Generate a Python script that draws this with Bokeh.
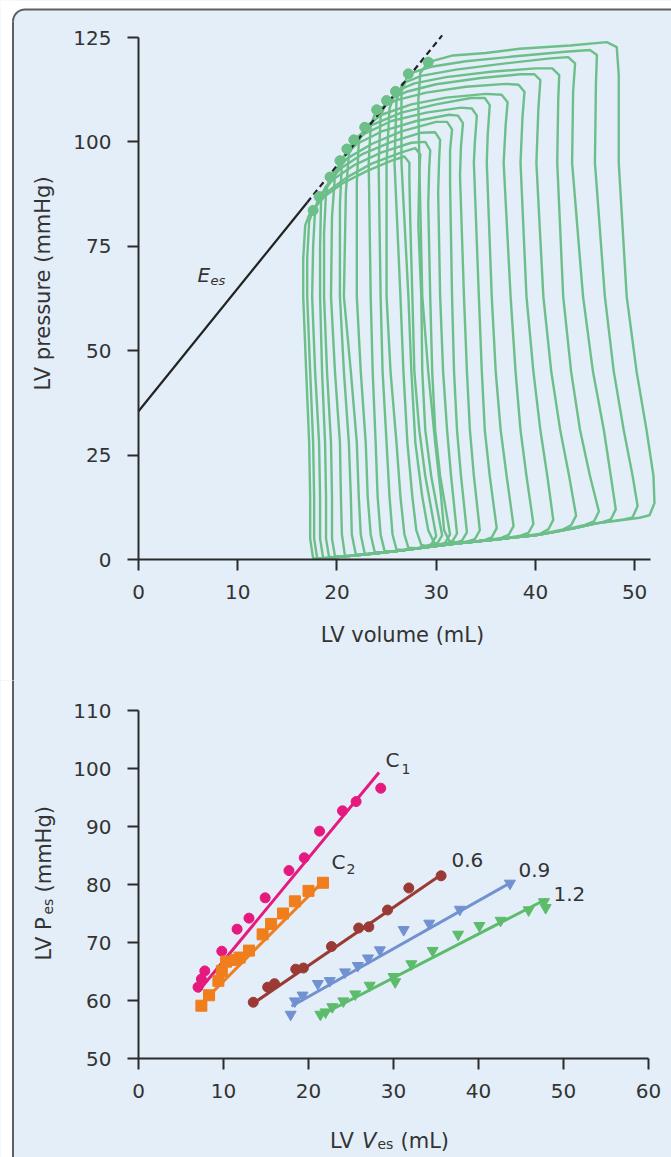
import math
from bokeh.plotting import figure
from bokeh.layouts import column
from bokeh.models import Range1d, FixedTicker, Label, BoxAnnotation
from bokeh.embed import file_html
from bokeh.resources import INLINE

# ---------------- data: top panel (pressure-volume loops) ----------------
# each loop: LV volume (mL) and LV pressure (mmHg), traced counter-clockwise
loop_v = [
    [28.7, 29.5, 30.0, 28.9, 28.3, 27.8, 27.6, 27.4, 27.3, 27.3, 26.8, 25.5, 23.0, 20.5, 18.5, 17.2, 16.8, 16.6, 16.6, 16.9, 17.2, 17.3, 17.3, 17.6, 18.4, 20, 22, 24, 26, 28, 28.7],
    [29.3, 30.1, 30.6, 29.5, 28.9, 28.6, 28.5, 28.2, 28.3, 28.4, 27.9, 26.5, 23.5, 21.0, 19.0, 17.6, 17.2, 17.0, 17.0, 17.3, 17.6, 17.7, 17.7, 18.0, 18.8, 20, 22, 24, 26, 28, 29.3],
    [30.1, 30.9, 31.4, 30.4, 29.9, 29.6, 29.4, 29.2, 29.3, 29.4, 28.9, 27.5, 24.5, 21.8, 19.6, 18.2, 17.8, 17.6, 17.5, 17.8, 18.2, 18.3, 18.3, 18.6, 19.4, 22, 24, 26, 28, 30.1],
    [30.8, 31.6, 32.1, 31.5, 31.1, 30.7, 30.4, 30.2, 30.3, 30.4, 29.9, 28.5, 25.5, 22.5, 20.3, 18.8, 18.4, 18.3, 18.3, 18.5, 18.8, 18.9, 18.9, 19.2, 20.0, 22, 24, 26, 28, 30, 30.8],
    [31.8, 32.6, 33.1, 32.5, 32.1, 31.8, 31.6, 31.4, 31.4, 31.6, 31.1, 30.0, 26.5, 23.5, 21.0, 19.3, 18.9, 18.7, 18.7, 19.0, 19.4, 19.5, 19.5, 19.8, 20.6, 22, 24, 26, 28, 30, 31.8],
    [33.1, 33.9, 34.4, 33.8, 33.4, 33.1, 32.8, 32.4, 32.5, 32.7, 32.2, 31.3, 28.0, 24.5, 22.0, 20.3, 19.8, 19.5, 19.4, 19.8, 20.3, 20.4, 20.5, 20.8, 21.6, 24, 26, 28, 30, 32, 33.1],
    [34.8, 35.6, 36.1, 35.4, 34.9, 34.6, 34.3, 33.8, 33.9, 34.1, 33.6, 32.5, 29.0, 25.5, 22.8, 21.0, 20.5, 20.3, 20.3, 20.7, 21.2, 21.4, 21.5, 21.9, 22.7, 24, 26, 28, 30, 32, 34, 34.8],
    [36.5, 37.3, 37.8, 37.1, 36.5, 36.0, 35.6, 35.1, 35.2, 35.4, 34.9, 33.5, 30.0, 26.5, 23.5, 21.7, 21.2, 20.9, 20.7, 21.4, 22.0, 22.2, 22.4, 22.8, 23.6, 26, 28, 30, 32, 34, 36.5],
    [38.5, 39.3, 39.8, 39.1, 38.5, 38.0, 37.5, 36.8, 37.0, 37.2, 36.6, 35.0, 31.0, 27.5, 24.5, 22.8, 22.2, 22.0, 22.0, 22.4, 22.9, 23.1, 23.4, 23.8, 24.6, 26, 28, 30, 32, 34, 36, 38.5],
    [40.5, 41.3, 41.8, 41.2, 40.5, 39.8, 39.1, 38.5, 38.7, 38.9, 38.3, 37.0, 33.0, 29.0, 26.0, 24.0, 23.4, 23.2, 23.4, 23.6, 23.9, 24.1, 24.4, 24.8, 25.6, 28, 30, 32, 34, 36, 38, 40.5],
    [42.8, 43.6, 44.1, 43.4, 42.5, 41.6, 40.8, 40.1, 40.3, 40.5, 39.9, 38.5, 34.5, 30.0, 27.0, 25.0, 24.4, 24.2, 24.4, 24.6, 25.0, 25.3, 25.6, 26.0, 26.8, 28, 30, 32, 34, 36, 38, 40, 42.8],
    [45.0, 45.9, 46.4, 45.5, 44.5, 43.6, 42.8, 42.2, 42.3, 42.4, 41.7, 40.0, 35.5, 31.0, 27.8, 25.9, 25.3, 25.0, 25.0, 25.4, 26.0, 26.4, 26.8, 27.2, 28.0, 30, 32, 34, 36, 38, 40, 42, 45.0],
    [46.8, 47.6, 48.1, 47.6, 46.9, 45.8, 44.8, 43.7, 43.8, 44.0, 43.3, 41.5, 37.0, 32.0, 28.5, 26.6, 26.0, 25.8, 26.4, 26.7, 27.1, 27.6, 28.0, 28.5, 29.3, 32, 34, 36, 38, 40, 42, 44, 46.8],
    [48.9, 49.8, 50.3, 49.8, 48.9, 47.9, 47.0, 46.0, 46.1, 46.2, 45.5, 43.0, 38.0, 33.0, 29.5, 27.2, 26.5, 26.5, 27.2, 27.5, 27.9, 28.6, 29.2, 29.8, 30.6, 32, 34, 36, 38, 40, 42, 44, 46, 48.9],
    [50.5, 51.5, 52.0, 51.9, 51.2, 50.2, 49.2, 48.4, 48.4, 48.2, 47.2, 43.5, 38.4, 35.0, 31.7, 29.2, 28.4, 28.2, 28.3, 28.6, 29.2, 29.9, 30.5, 30.8, 31.3, 32.2, 34, 36, 38, 40, 42, 44, 46, 48, 50.5],
]
loop_p = [
    [3.1, 3.6, 5.6, 20, 31, 45, 63, 80, 91, 95.0, 96.5, 95.5, 93.0, 90.0, 86.5, 82.5, 80, 72, 63, 45, 28, 15, 5, 0.3, 0.2, 0.6, 1.0, 1.5, 2.0, 2.6, 3.1],
    [3.3, 3.8, 5.8, 20, 31, 45, 63, 80, 93, 97.0, 98.5, 97.5, 94.8, 91.5, 88.0, 83.6, 81, 72, 63, 45, 28, 15, 5, 0.4, 0.3, 0.6, 1.0, 1.5, 2.0, 2.6, 3.3],
    [3.5, 4.0, 6.0, 20, 31, 45, 63, 85, 94, 98.0, 100.0, 99.8, 97.5, 94.5, 91.0, 86.9, 84, 75, 63, 45, 28, 15, 5, 0.5, 0.4, 1.0, 1.5, 2.0, 2.6, 3.5],
    [3.7, 4.2, 6.2, 20, 31, 45, 63, 88, 96, 100.5, 102.3, 102.2, 100.0, 97.0, 93.5, 89.0, 86, 75, 63, 45, 28, 15, 5, 0.6, 0.6, 1.0, 1.5, 2.0, 2.6, 3.3, 3.7],
    [4.0, 4.5, 6.5, 20, 31, 45, 63, 90, 98, 103.0, 104.8, 104.8, 102.5, 99.5, 96.0, 91.6, 88, 78, 63, 45, 28, 15, 5, 0.8, 0.7, 1.0, 1.5, 2.0, 2.6, 3.2, 4.0],
    [4.3, 4.9, 7.0, 20, 31, 45, 63, 92, 99, 104.5, 106.3, 106.5, 105.0, 102.5, 99.5, 95.5, 92, 82, 63, 45, 28, 15, 6, 1.0, 0.9, 1.5, 2.0, 2.6, 3.2, 3.8, 4.3],
    [4.6, 5.3, 7.5, 20, 31, 45, 63, 95, 100, 106.3, 108.0, 108.2, 107.0, 105.0, 102.0, 98.3, 95, 85, 63, 45, 28, 15, 6, 1.2, 1.2, 1.5, 2.0, 2.6, 3.2, 3.8, 4.3, 4.6],
    [5.1, 5.9, 8.0, 20, 31, 45, 63, 95, 102, 108.8, 110.5, 110.5, 109.0, 107.0, 104.0, 100.5, 97, 88, 63, 45, 28, 15, 6, 1.4, 1.4, 2.0, 2.6, 3.2, 3.8, 4.3, 5.1],
    [5.7, 6.4, 8.5, 20, 31, 45, 63, 95, 104, 109.5, 111.3, 111.5, 110.6, 109.0, 106.5, 103.5, 100, 90, 63, 45, 28, 15, 6, 1.8, 1.7, 2.0, 2.6, 3.2, 3.8, 4.3, 4.8, 5.7],
    [6.2, 7.2, 9.5, 20, 31, 45, 63, 95, 106, 112.0, 113.7, 113.9, 113.2, 111.8, 110.0, 107.7, 104, 95, 63, 45, 28, 15, 6, 2.0, 2.0, 2.6, 3.2, 3.8, 4.3, 4.8, 5.3, 6.2],
    [7.2, 8.2, 10.5, 20, 31, 45, 63, 95, 108, 114.8, 116.2, 116.2, 115.3, 113.8, 112.0, 109.9, 106, 95, 63, 45, 28, 15, 6, 2.4, 2.3, 2.6, 3.2, 3.8, 4.3, 4.8, 5.3, 5.8, 7.2],
    [8.3, 9.1, 11.5, 20, 31, 45, 63, 95, 110, 116.0, 117.6, 117.6, 116.8, 115.5, 114.0, 112.1, 108, 95, 63, 45, 28, 15, 6, 2.8, 2.7, 3.2, 3.8, 4.3, 4.8, 5.3, 5.8, 6.6, 8.3],
    [9.0, 9.6, 12.0, 20, 31, 45, 63, 95, 112, 118.8, 120.3, 120.0, 118.8, 117.3, 115.8, 114.0, 110, 95, 63, 45, 28, 15, 7, 3.5, 3.1, 3.8, 4.3, 4.8, 5.3, 5.8, 6.6, 7.5, 9.0],
    [9.6, 10.1, 12.8, 20, 31, 45, 63, 95, 114, 120.8, 122.0, 121.6, 120.5, 119.3, 118.0, 116.3, 112, 95, 63, 45, 28, 15, 7, 4.0, 3.5, 3.8, 4.3, 4.8, 5.3, 5.8, 6.6, 7.5, 8.6, 9.6],
    [10.0, 10.6, 13.5, 20, 31, 45, 63, 95, 116, 122.7, 123.9, 123.1, 122.3, 121.3, 120.7, 119.1, 116.5, 110, 95, 63, 45, 28, 15, 7, 4.5, 4.0, 4.3, 4.8, 5.3, 5.8, 6.6, 7.5, 8.6, 9.2, 10.0],
]
# end-systolic points (dots)
es_v = [17.6, 18.2, 19.3, 20.3, 21.0, 21.7, 22.8, 24.0, 25.0, 25.9, 27.2, 29.2]
es_p = [83.6, 86.9, 91.6, 95.5, 98.3, 100.5, 103.5, 107.7, 109.9, 112.1, 116.3, 119.1]
# end-systolic pressure-volume relation (Ees line)
espvr_v = [0.0, 17.0, 30.6]
espvr_p = [35.5, 85.5, 125.5]

top_xticks = [0, 10, 20, 30, 40, 50]
top_yticks = [0, 25, 50, 75, 100, 125]

# ---------------- data: bottom panel (ESPVR series) ----------------
c1_v = [7.0, 7.4, 7.8, 9.8, 11.6, 13.0, 14.9, 17.7, 19.5, 21.3, 24.0, 25.6, 28.5]
c1_p = [62.3, 63.7, 65.1, 68.5, 72.3, 74.2, 77.7, 82.4, 84.6, 89.2, 92.7, 94.3, 96.6]
c1_fit_v = [7.0, 28.3]
c1_fit_p = [61.5, 99.3]

c2_v = [7.4, 8.3, 9.4, 9.8, 10.3, 11.4, 11.9, 13.0, 14.6, 15.6, 17.0, 18.4, 20.0, 21.7]
c2_p = [59.1, 60.9, 63.4, 65.1, 66.7, 67.0, 67.4, 68.6, 71.4, 73.2, 75.0, 77.1, 78.9, 80.3]
c2_fit_v = [7.4, 21.7]
c2_fit_p = [59.5, 80.5]

d06_v = [13.5, 15.2, 16.0, 18.5, 19.4, 22.7, 25.9, 27.1, 29.3, 31.8, 35.6]
d06_p = [59.7, 62.3, 62.9, 65.4, 65.6, 69.3, 72.5, 72.7, 75.6, 79.4, 81.5]
d06_fit_v = [13.5, 35.6]
d06_fit_p = [59.5, 81.7]

d09_v = [17.9, 18.4, 19.3, 21.1, 22.5, 24.3, 25.8, 27.0, 28.4, 31.2, 34.2, 37.8, 43.7]
d09_p = [57.6, 59.9, 60.9, 62.9, 63.4, 64.9, 66.0, 67.3, 68.7, 72.2, 73.3, 75.7, 80.2]
d09_fit_v = [18.0, 44.0]
d09_fit_p = [59.0, 80.5]

d12_v = [21.4, 22.0, 22.8, 24.1, 25.5, 27.2, 30.0, 30.2, 32.1, 34.6, 37.6, 40.1, 42.6, 45.9, 47.7, 47.9]
d12_p = [57.6, 58.0, 58.9, 59.9, 61.1, 62.6, 64.1, 63.2, 66.3, 68.6, 71.4, 72.9, 73.8, 75.6, 77.0, 76.0]
d12_fit_v = [21.5, 48.0]
d12_fit_p = [57.5, 77.5]

bot_xticks = [0, 10, 20, 30, 40, 50, 60]
bot_yticks = [50, 60, 70, 80, 90, 100, 110]

# ---------------- styling / layout ----------------
BG = "#e3eef8"
AX = "#2b2b2b"
TXT = "#333333"
FONT = "DejaVu Sans"
LOOP_GREEN = "#6cbf88"
BORDER = "#5f5f5f"
W = 671
H1 = 680
H2 = 1157 - H1
DY = 9   # text box shift (px) for labels
DX = 6   # same, for rotated labels
R = 12   # corner radius of the panel frame (px)
FR_X, FR_Y = 12.5, 9   # left / top edge of the panel frame (px)

# top panel pixel geometry (page pixels)
T_X0, T_X1, T_XMAX = 138, 650, 51.6
T_Y0, T_Y1, T_YMAX = 559, 37, 125
t_sx = (T_X1 - T_X0) / T_XMAX
t_sy = (T_Y0 - T_Y1) / T_YMAX


def t_pt(px, py):
    return (px - T_X0) / t_sx, (T_Y0 - py) / t_sy


# bottom panel pixel geometry (page pixels)
B_X0, B_X1 = 138, 648
B_Y0, B_Y1 = 1058, 710
b_sx = (B_X1 - B_X0) / 60.0
b_sy = (B_Y0 - B_Y1) / 60.0


def b_pt(px, py):
    return (px - B_X0) / b_sx, 50 + (B_Y0 - py) / b_sy


def style_axes(p, xticks, yticks, xloc, yloc, xb, yb):
    p.xaxis.ticker = FixedTicker(ticks=xticks)
    p.yaxis.ticker = FixedTicker(ticks=yticks)
    p.xaxis.fixed_location = xloc
    p.yaxis.fixed_location = yloc
    p.xaxis.bounds = xb
    p.yaxis.bounds = yb
    for ax in (p.xaxis, p.yaxis):
        ax.axis_line_width = 2
        ax.axis_line_color = AX
        ax.major_tick_line_width = 2
        ax.major_tick_line_color = AX
        ax.major_tick_out = 11
        ax.major_tick_in = 0
        ax.minor_tick_line_color = None
        ax.major_label_text_font = FONT
        ax.major_label_text_font_size = "20px"
        ax.major_label_text_color = TXT
    p.xaxis.major_label_standoff = 14
    p.yaxis.major_label_standoff = 16
    p.xgrid.visible = False
    p.ygrid.visible = False
    p.outline_line_color = None
    p.background_fill_color = BG
    p.border_fill_color = BG
    p.min_border = 0


def label(p, xy, text, size="21px", style="normal", align="left", baseline="alphabetic", angle=0.0):
    p.add_layout(Label(x=xy[0], y=xy[1], text=text, text_font=FONT, text_font_size=size,
                       text_font_style=style, text_color=TXT, text_align=align,
                       text_baseline=baseline, angle=angle))


def seg(p, conv, a, b):
    (x0, y0), (x1, y1) = conv(*a), conv(*b)
    p.line([x0, x1], [y0, y1], line_color=BORDER, line_width=2)


def box(p, conv, x0, y0, x1, y1, color, radius=0):
    (l, t), (r, b) = conv(x0, y0), conv(x1, y1)
    p.add_layout(BoxAnnotation(left=l, right=r, top=t, bottom=b, fill_color=color,
                               fill_alpha=1.0, line_color=None, border_radius=radius,
                               level="underlay"))


# ---------------- top figure ----------------
tx0, ty_top = t_pt(0, 0)
tx1, ty_bot = t_pt(W, H1)
p1 = figure(width=W, height=H1, output_backend="svg", toolbar_location=None,
            x_range=Range1d(tx0, tx1), y_range=Range1d(ty_bot, ty_top))
style_axes(p1, top_xticks, top_yticks, 0, 0, (0, T_XMAX), (0, T_YMAX))
# white page outside the rounded panel frame
box(p1, t_pt, -40, -40, FR_X, H1 + 40, "white")
box(p1, t_pt, -40, -40, W + 40, FR_Y, "white")
box(p1, t_pt, FR_X - 1, FR_Y - 1, FR_X + R, FR_Y + R, "white")
box(p1, t_pt, FR_X, FR_Y, W + 40, H1 + 40, BG, radius=(R, 0, 0, 0))
# panel frame: top edge, rounded corner, left edge
seg(p1, t_pt, (FR_X + R, FR_Y), (W + 5, FR_Y))
seg(p1, t_pt, (FR_X, FR_Y + R), (FR_X, H1 + 5))
cx, cy = t_pt(FR_X + R, FR_Y + R)
p1.arc(x=[cx], y=[cy], radius=R, radius_units="screen", start_angle=math.pi / 2,
       end_angle=math.pi, line_color=BORDER, line_width=2)

p1.multi_line(xs=loop_v, ys=loop_p, line_color=LOOP_GREEN, line_width=2.4, line_join="round")
p1.line(espvr_v[:2], espvr_p[:2], line_color="#222222", line_width=2.2)
p1.line(espvr_v[1:], espvr_p[1:], line_color="#222222", line_width=2.2, line_dash="6 4")
p1.scatter(es_v, es_p, size=10, marker="circle", fill_color=LOOP_GREEN, line_color=LOOP_GREEN)

label(p1, t_pt(197, 283 - DY), "E", size="20px", style="italic")
label(p1, t_pt(210, 289 - DY), "es", size="13px", style="italic")
label(p1, t_pt(48 - DX, 283), "LV pressure (mmHg)", align="center", angle=math.pi / 2)
label(p1, t_pt(402, 643 - DY), "LV volume (mL)", align="center")

# ---------------- bottom figure ----------------
bx0, by_top = b_pt(0, H1)
bx1, by_bot = b_pt(W, 1157)
p2 = figure(width=W, height=H2, output_backend="svg", toolbar_location=None,
            x_range=Range1d(bx0, bx1), y_range=Range1d(by_bot, by_top))
style_axes(p2, bot_xticks, bot_yticks, 50, 0, (0, 60), (50, 110))
box(p2, b_pt, -40, H1 - 40, FR_X, 1157 + 40, "white")
seg(p2, b_pt, (FR_X, H1 - 5), (FR_X, 1157 + 5))

series = [
    (c1_v, c1_p, c1_fit_v, c1_fit_p, "#e5197e", "circle", 10),
    (c2_v, c2_p, c2_fit_v, c2_fit_p, "#f07e1d", "square", 11),
    (d06_v, d06_p, d06_fit_v, d06_fit_p, "#9b3a34", "circle", 10),
    (d09_v, d09_p, d09_fit_v, d09_fit_p, "#7191d1", "inverted_triangle", 11),
    (d12_v, d12_p, d12_fit_v, d12_fit_p, "#5cbc6b", "inverted_triangle", 11),
]
for sv, sp, fv, fp, col, mk, sz in series:
    p2.line(fv, fp, line_color=col, line_width=3)
    p2.scatter(sv, sp, marker=mk, size=sz, fill_color=col, line_color=col)

label(p2, b_pt(385, 768 - DY), "C", size="20px")
label(p2, b_pt(401, 777 - DY), "1", size="14px")
label(p2, b_pt(331, 870 - DY), "C", size="20px")
label(p2, b_pt(346, 877 - DY), "2", size="14px")
label(p2, b_pt(451, 868 - DY), "0.6", size="20px")
label(p2, b_pt(518, 878 - DY), "0.9", size="20px")
label(p2, b_pt(553, 902 - DY), "1.2", size="20px")

# axis titles built from pieces (italic V, subscript es)
label(p2, b_pt(329.5, 1149 - DY), "LV")
label(p2, b_pt(361.6, 1149 - DY), "V", style="italic")
label(p2, b_pt(377, 1152 - DY), "es", size="14px")
label(p2, b_pt(400, 1149 - DY), "(mL)")
label(p2, b_pt(49 - DX, 960), "LV P", angle=math.pi / 2)
label(p2, b_pt(53 - DX, 914), "es", size="14px", angle=math.pi / 2)
label(p2, b_pt(49 - DX, 892), "(mmHg)", angle=math.pi / 2)

layout = column(p1, p2, styles={"background-color": BG})
open("out.html", "w").write(file_html(layout, INLINE))
